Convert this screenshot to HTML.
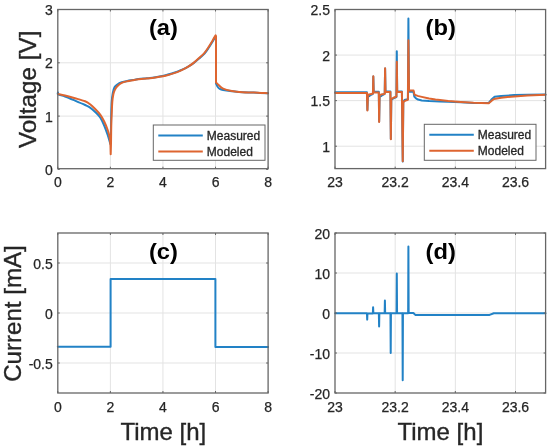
<!DOCTYPE html>
<html><head><meta charset="utf-8"><style>html,body{margin:0;padding:0;background:#fff;width:550px;height:448px;overflow:hidden}</style></head>
<body>
<svg width="550" height="448" viewBox="0 0 550 448" style="display:block;font-family:'Liberation Sans', sans-serif;will-change:transform">
<rect width="550" height="448" fill="#fff"/>
<line x1="110.38" y1="9.5" x2="110.38" y2="168.7" stroke="#e3e3e3" stroke-width="1"/>
<line x1="162.95" y1="9.5" x2="162.95" y2="168.7" stroke="#e3e3e3" stroke-width="1"/>
<line x1="215.53" y1="9.5" x2="215.53" y2="168.7" stroke="#e3e3e3" stroke-width="1"/>
<line x1="57.8" y1="116.10" x2="268.1" y2="116.10" stroke="#e3e3e3" stroke-width="1"/>
<line x1="57.8" y1="62.80" x2="268.1" y2="62.80" stroke="#e3e3e3" stroke-width="1"/>
<line x1="395.17" y1="9.5" x2="395.17" y2="168.6" stroke="#e3e3e3" stroke-width="1"/>
<line x1="455.34" y1="9.5" x2="455.34" y2="168.6" stroke="#e3e3e3" stroke-width="1"/>
<line x1="515.51" y1="9.5" x2="515.51" y2="168.6" stroke="#e3e3e3" stroke-width="1"/>
<line x1="335.0" y1="146.21" x2="545.6" y2="146.21" stroke="#e3e3e3" stroke-width="1"/>
<line x1="335.0" y1="100.64" x2="545.6" y2="100.64" stroke="#e3e3e3" stroke-width="1"/>
<line x1="335.0" y1="55.07" x2="545.6" y2="55.07" stroke="#e3e3e3" stroke-width="1"/>
<line x1="110.38" y1="233.0" x2="110.38" y2="393.0" stroke="#e3e3e3" stroke-width="1"/>
<line x1="162.95" y1="233.0" x2="162.95" y2="393.0" stroke="#e3e3e3" stroke-width="1"/>
<line x1="215.53" y1="233.0" x2="215.53" y2="393.0" stroke="#e3e3e3" stroke-width="1"/>
<line x1="57.8" y1="363.00" x2="268.1" y2="363.00" stroke="#e3e3e3" stroke-width="1"/>
<line x1="57.8" y1="313.00" x2="268.1" y2="313.00" stroke="#e3e3e3" stroke-width="1"/>
<line x1="57.8" y1="263.00" x2="268.1" y2="263.00" stroke="#e3e3e3" stroke-width="1"/>
<line x1="395.17" y1="233.0" x2="395.17" y2="393.0" stroke="#e3e3e3" stroke-width="1"/>
<line x1="455.34" y1="233.0" x2="455.34" y2="393.0" stroke="#e3e3e3" stroke-width="1"/>
<line x1="515.51" y1="233.0" x2="515.51" y2="393.0" stroke="#e3e3e3" stroke-width="1"/>
<line x1="335.0" y1="353.00" x2="545.6" y2="353.00" stroke="#e3e3e3" stroke-width="1"/>
<line x1="335.0" y1="313.00" x2="545.6" y2="313.00" stroke="#e3e3e3" stroke-width="1"/>
<line x1="335.0" y1="273.00" x2="545.6" y2="273.00" stroke="#e3e3e3" stroke-width="1"/>
<path d="M58.00,92.50 C58.05,92.83 57.13,93.83 58.30,94.50 C59.47,95.17 62.22,95.48 65.00,96.50 C67.78,97.52 71.65,99.18 75.00,100.60 C78.35,102.02 82.58,103.83 85.10,105.00 C87.62,106.17 88.42,106.43 90.10,107.60 C91.78,108.77 93.52,110.35 95.20,112.00 C96.88,113.65 98.70,115.25 100.20,117.50 C101.70,119.75 102.95,122.58 104.20,125.50 C105.45,128.42 106.82,132.42 107.70,135.00 C108.58,137.58 109.07,139.50 109.50,141.00 C109.93,142.50 110.17,143.50 110.30,144.00 C110.38,143.00 110.65,142.83 110.80,138.00 C110.95,133.17 111.05,121.03 111.20,115.00 C111.35,108.97 111.43,105.48 111.70,101.80 C111.97,98.12 112.33,95.32 112.80,92.90 C113.27,90.48 113.75,88.70 114.50,87.30 C115.25,85.90 116.10,85.33 117.30,84.50 C118.50,83.67 120.03,82.90 121.70,82.30 C123.37,81.70 125.43,81.28 127.30,80.90 C129.17,80.52 131.03,80.30 132.90,80.00 C134.77,79.70 136.65,79.33 138.50,79.08 C140.35,78.83 142.08,78.66 144.00,78.47 C145.92,78.28 148.08,78.17 150.00,77.96 C151.92,77.75 153.68,77.50 155.50,77.22 C157.32,76.94 159.08,76.64 160.90,76.28 C162.72,75.92 164.58,75.50 166.40,75.04 C168.22,74.58 169.98,74.06 171.80,73.50 C173.62,72.94 175.48,72.34 177.30,71.66 C179.12,70.98 180.88,70.27 182.70,69.42 C184.52,68.57 186.38,67.63 188.20,66.58 C190.02,65.53 191.78,64.43 193.60,63.10 C195.42,61.77 197.28,60.18 199.10,58.60 C200.92,57.02 202.87,55.45 204.50,53.60 C206.13,51.75 207.57,49.48 208.90,47.50 C210.23,45.52 211.53,43.33 212.50,41.70 C213.47,40.07 214.18,38.55 214.70,37.70 C215.22,36.85 215.45,36.78 215.60,36.60 C215.67,36.67 215.93,36.93 216.00,37.00 C216.00,44.75 216.00,75.75 216.00,83.50 C216.27,84.03 216.97,85.80 217.60,86.70 C218.23,87.60 218.88,88.35 219.80,88.90 C220.72,89.45 221.10,89.62 223.10,90.00 C225.10,90.38 228.53,90.82 231.80,91.20 C235.07,91.58 239.07,92.07 242.70,92.30 C246.33,92.53 249.38,92.43 253.60,92.60 C257.82,92.77 265.60,93.18 268.00,93.30" fill="none" stroke="#2282c6" stroke-width="2.0" stroke-linejoin="round" stroke-linecap="round"/>
<path d="M58.00,94.00 C59.17,94.25 62.17,94.80 65.00,95.50 C67.83,96.20 71.65,97.23 75.00,98.20 C78.35,99.17 82.58,100.28 85.10,101.30 C87.62,102.32 88.42,103.02 90.10,104.30 C91.78,105.58 93.52,107.28 95.20,109.00 C96.88,110.72 98.70,112.52 100.20,114.60 C101.70,116.68 102.95,118.93 104.20,121.50 C105.45,124.07 106.82,127.45 107.70,130.00 C108.58,132.55 109.05,134.33 109.50,136.80 C109.95,139.27 110.20,141.90 110.40,144.80 C110.60,147.70 110.65,152.63 110.70,154.20 C110.75,152.42 110.90,148.63 111.00,143.50 C111.10,138.37 111.18,128.32 111.30,123.40 C111.42,118.48 111.53,117.60 111.70,114.00 C111.87,110.40 112.02,105.13 112.30,101.80 C112.58,98.47 112.95,96.03 113.40,94.00 C113.85,91.97 114.35,90.90 115.00,89.60 C115.65,88.30 116.18,87.32 117.30,86.20 C118.42,85.08 120.03,83.73 121.70,82.90 C123.37,82.07 125.43,81.65 127.30,81.20 C129.17,80.75 131.03,80.52 132.90,80.20 C134.77,79.88 136.65,79.53 138.50,79.28 C140.35,79.03 142.08,78.84 144.00,78.67 C145.92,78.50 148.08,78.45 150.00,78.26 C151.92,78.07 153.68,77.80 155.50,77.52 C157.32,77.24 159.08,76.93 160.90,76.58 C162.72,76.23 164.58,75.89 166.40,75.44 C168.22,74.99 169.98,74.46 171.80,73.90 C173.62,73.34 175.48,72.76 177.30,72.06 C179.12,71.36 180.88,70.62 182.70,69.72 C184.52,68.82 186.38,67.82 188.20,66.68 C190.02,65.54 191.78,64.35 193.60,62.90 C195.42,61.45 197.28,59.68 199.10,58.00 C200.92,56.32 202.87,54.72 204.50,52.80 C206.13,50.88 207.57,48.52 208.90,46.50 C210.23,44.48 211.53,42.33 212.50,40.70 C213.47,39.07 214.18,37.58 214.70,36.70 C215.22,35.82 215.45,35.62 215.60,35.40 C215.67,35.50 215.93,35.90 216.00,36.00 C216.00,43.73 216.00,74.67 216.00,82.40 C216.45,82.85 217.52,84.07 218.70,85.10 C219.88,86.13 220.92,87.63 223.10,88.60 C225.28,89.57 228.53,90.30 231.80,90.90 C235.07,91.50 239.07,91.93 242.70,92.20 C246.33,92.47 249.38,92.32 253.60,92.50 C257.82,92.68 265.60,93.17 268.00,93.30" fill="none" stroke="#de6530" stroke-width="2.0" stroke-linejoin="round" stroke-linecap="round"/>
<polyline points="335.20,92.20 366.90,92.20 367.40,110.00 367.90,96.60 369.40,96.00 370.50,95.20 372.00,94.40 372.90,93.80 373.30,76.50 373.70,91.70 378.80,91.70 379.15,121.50 379.60,96.80 381.00,96.20 382.50,95.00 384.70,93.80 385.10,68.50 385.50,91.60 390.40,91.60 390.85,139.00 391.30,99.50 393.50,98.30 396.40,97.00 396.80,51.20 397.20,91.60 401.90,91.60 402.75,161.50 403.30,102.50 404.50,100.00 406.50,99.40 407.90,99.20 408.40,18.50 409.00,91.40 413.50,91.80 414.30,96.50 416.00,98.40 418.00,99.60 421.80,100.40 429.10,101.10 440.00,101.50 448.20,101.70 460.90,102.30 473.60,102.90 488.70,102.90 491.40,99.60 494.60,96.80 501.20,96.00 514.30,95.10 527.40,94.70 545.50,94.40" fill="none" stroke="#2282c6" stroke-width="2.0" stroke-linejoin="round" stroke-linecap="round"/>
<polyline points="335.20,92.90 366.90,92.90 367.40,110.40 367.90,95.00 369.00,94.40 372.40,93.80 372.95,93.20 373.30,76.20 373.65,92.40 378.80,92.40 379.15,122.00 379.60,95.20 381.00,94.60 384.30,94.00 384.75,93.50 385.10,68.20 385.50,92.00 390.40,92.00 390.85,139.30 391.30,98.80 393.50,97.80 396.00,96.80 396.45,96.40 396.80,61.70 397.20,92.00 401.90,92.00 402.75,161.30 403.30,101.80 405.50,100.60 407.40,100.00 407.90,99.70 408.40,40.30 409.00,90.30 413.60,90.60 414.50,94.60 417.60,95.90 421.80,96.90 429.10,98.50 435.50,99.50 440.00,100.00 448.20,101.00 460.90,101.90 473.60,102.70 481.50,102.90 488.70,103.30 491.40,100.90 494.00,99.00 501.20,97.70 514.30,96.40 527.40,95.40 545.50,94.80" fill="none" stroke="#de6530" stroke-width="2.0" stroke-linejoin="round" stroke-linecap="round"/>
<polyline points="57.80,346.70 110.60,346.70 110.60,279.10 215.40,279.10 215.40,346.90 268.10,346.90" fill="none" stroke="#2282c6" stroke-width="2.0" stroke-linejoin="round" stroke-linecap="round"/>
<polyline points="335.20,313.30 366.95,313.30 367.20,319.60 367.45,313.50 372.85,313.50 373.10,307.30 373.35,313.30 378.85,313.30 379.10,326.50 379.35,313.30 384.65,313.30 384.90,300.50 385.15,313.30 390.45,313.30 390.70,352.90 390.95,313.30 396.55,313.30 396.80,273.40 397.05,313.30 402.45,313.30 402.70,380.20 402.95,313.30 408.15,313.30 408.40,246.60 408.65,313.00 413.40,313.00 415.30,314.90 489.60,314.90 493.80,313.30 545.50,313.30" fill="none" stroke="#2282c6" stroke-width="2.0" stroke-linejoin="round" stroke-linecap="round"/>
<rect x="57.8" y="9.5" width="210.30" height="159.20" fill="none" stroke="#666666" stroke-width="1.3"/>
<line x1="57.80" y1="168.7" x2="57.80" y2="166.70" stroke="#666666" stroke-width="1"/>
<line x1="57.80" y1="9.5" x2="57.80" y2="11.50" stroke="#666666" stroke-width="1"/>
<line x1="110.38" y1="168.7" x2="110.38" y2="166.70" stroke="#666666" stroke-width="1"/>
<line x1="110.38" y1="9.5" x2="110.38" y2="11.50" stroke="#666666" stroke-width="1"/>
<line x1="162.95" y1="168.7" x2="162.95" y2="166.70" stroke="#666666" stroke-width="1"/>
<line x1="162.95" y1="9.5" x2="162.95" y2="11.50" stroke="#666666" stroke-width="1"/>
<line x1="215.53" y1="168.7" x2="215.53" y2="166.70" stroke="#666666" stroke-width="1"/>
<line x1="215.53" y1="9.5" x2="215.53" y2="11.50" stroke="#666666" stroke-width="1"/>
<line x1="268.10" y1="168.7" x2="268.10" y2="166.70" stroke="#666666" stroke-width="1"/>
<line x1="268.10" y1="9.5" x2="268.10" y2="11.50" stroke="#666666" stroke-width="1"/>
<line x1="57.8" y1="169.40" x2="59.80" y2="169.40" stroke="#666666" stroke-width="1"/>
<line x1="268.1" y1="169.40" x2="266.10" y2="169.40" stroke="#666666" stroke-width="1"/>
<line x1="57.8" y1="116.10" x2="59.80" y2="116.10" stroke="#666666" stroke-width="1"/>
<line x1="268.1" y1="116.10" x2="266.10" y2="116.10" stroke="#666666" stroke-width="1"/>
<line x1="57.8" y1="62.80" x2="59.80" y2="62.80" stroke="#666666" stroke-width="1"/>
<line x1="268.1" y1="62.80" x2="266.10" y2="62.80" stroke="#666666" stroke-width="1"/>
<line x1="57.8" y1="9.50" x2="59.80" y2="9.50" stroke="#666666" stroke-width="1"/>
<line x1="268.1" y1="9.50" x2="266.10" y2="9.50" stroke="#666666" stroke-width="1"/>
<text x="57.80" y="187.20" text-anchor="middle" font-size="14" fill="#262626" stroke="#262626" stroke-width="0.25">0</text>
<text x="110.38" y="187.20" text-anchor="middle" font-size="14" fill="#262626" stroke="#262626" stroke-width="0.25">2</text>
<text x="162.95" y="187.20" text-anchor="middle" font-size="14" fill="#262626" stroke="#262626" stroke-width="0.25">4</text>
<text x="215.53" y="187.20" text-anchor="middle" font-size="14" fill="#262626" stroke="#262626" stroke-width="0.25">6</text>
<text x="268.10" y="187.20" text-anchor="middle" font-size="14" fill="#262626" stroke="#262626" stroke-width="0.25">8</text>
<text x="52.80" y="175.00" text-anchor="end" font-size="14" fill="#262626" stroke="#262626" stroke-width="0.25">0</text>
<text x="52.80" y="121.70" text-anchor="end" font-size="14" fill="#262626" stroke="#262626" stroke-width="0.25">1</text>
<text x="52.80" y="68.40" text-anchor="end" font-size="14" fill="#262626" stroke="#262626" stroke-width="0.25">2</text>
<text x="52.80" y="15.10" text-anchor="end" font-size="14" fill="#262626" stroke="#262626" stroke-width="0.25">3</text>
<rect x="335.0" y="9.5" width="210.60" height="159.10" fill="none" stroke="#666666" stroke-width="1.3"/>
<line x1="335.00" y1="168.6" x2="335.00" y2="166.60" stroke="#666666" stroke-width="1"/>
<line x1="335.00" y1="9.5" x2="335.00" y2="11.50" stroke="#666666" stroke-width="1"/>
<line x1="395.17" y1="168.6" x2="395.17" y2="166.60" stroke="#666666" stroke-width="1"/>
<line x1="395.17" y1="9.5" x2="395.17" y2="11.50" stroke="#666666" stroke-width="1"/>
<line x1="455.34" y1="168.6" x2="455.34" y2="166.60" stroke="#666666" stroke-width="1"/>
<line x1="455.34" y1="9.5" x2="455.34" y2="11.50" stroke="#666666" stroke-width="1"/>
<line x1="515.51" y1="168.6" x2="515.51" y2="166.60" stroke="#666666" stroke-width="1"/>
<line x1="515.51" y1="9.5" x2="515.51" y2="11.50" stroke="#666666" stroke-width="1"/>
<line x1="335.0" y1="146.21" x2="337.00" y2="146.21" stroke="#666666" stroke-width="1"/>
<line x1="545.6" y1="146.21" x2="543.60" y2="146.21" stroke="#666666" stroke-width="1"/>
<line x1="335.0" y1="100.64" x2="337.00" y2="100.64" stroke="#666666" stroke-width="1"/>
<line x1="545.6" y1="100.64" x2="543.60" y2="100.64" stroke="#666666" stroke-width="1"/>
<line x1="335.0" y1="55.07" x2="337.00" y2="55.07" stroke="#666666" stroke-width="1"/>
<line x1="545.6" y1="55.07" x2="543.60" y2="55.07" stroke="#666666" stroke-width="1"/>
<line x1="335.0" y1="9.50" x2="337.00" y2="9.50" stroke="#666666" stroke-width="1"/>
<line x1="545.6" y1="9.50" x2="543.60" y2="9.50" stroke="#666666" stroke-width="1"/>
<text x="335.00" y="187.10" text-anchor="middle" font-size="14" fill="#262626" stroke="#262626" stroke-width="0.25">23</text>
<text x="395.17" y="187.10" text-anchor="middle" font-size="14" fill="#262626" stroke="#262626" stroke-width="0.25">23.2</text>
<text x="455.34" y="187.10" text-anchor="middle" font-size="14" fill="#262626" stroke="#262626" stroke-width="0.25">23.4</text>
<text x="515.51" y="187.10" text-anchor="middle" font-size="14" fill="#262626" stroke="#262626" stroke-width="0.25">23.6</text>
<text x="330.00" y="151.81" text-anchor="end" font-size="14" fill="#262626" stroke="#262626" stroke-width="0.25">1</text>
<text x="330.00" y="106.24" text-anchor="end" font-size="14" fill="#262626" stroke="#262626" stroke-width="0.25">1.5</text>
<text x="330.00" y="60.67" text-anchor="end" font-size="14" fill="#262626" stroke="#262626" stroke-width="0.25">2</text>
<text x="330.00" y="15.10" text-anchor="end" font-size="14" fill="#262626" stroke="#262626" stroke-width="0.25">2.5</text>
<rect x="57.8" y="233.0" width="210.30" height="160.00" fill="none" stroke="#666666" stroke-width="1.3"/>
<line x1="57.80" y1="393.0" x2="57.80" y2="391.00" stroke="#666666" stroke-width="1"/>
<line x1="57.80" y1="233.0" x2="57.80" y2="235.00" stroke="#666666" stroke-width="1"/>
<line x1="110.38" y1="393.0" x2="110.38" y2="391.00" stroke="#666666" stroke-width="1"/>
<line x1="110.38" y1="233.0" x2="110.38" y2="235.00" stroke="#666666" stroke-width="1"/>
<line x1="162.95" y1="393.0" x2="162.95" y2="391.00" stroke="#666666" stroke-width="1"/>
<line x1="162.95" y1="233.0" x2="162.95" y2="235.00" stroke="#666666" stroke-width="1"/>
<line x1="215.53" y1="393.0" x2="215.53" y2="391.00" stroke="#666666" stroke-width="1"/>
<line x1="215.53" y1="233.0" x2="215.53" y2="235.00" stroke="#666666" stroke-width="1"/>
<line x1="268.10" y1="393.0" x2="268.10" y2="391.00" stroke="#666666" stroke-width="1"/>
<line x1="268.10" y1="233.0" x2="268.10" y2="235.00" stroke="#666666" stroke-width="1"/>
<line x1="57.8" y1="363.00" x2="59.80" y2="363.00" stroke="#666666" stroke-width="1"/>
<line x1="268.1" y1="363.00" x2="266.10" y2="363.00" stroke="#666666" stroke-width="1"/>
<line x1="57.8" y1="313.00" x2="59.80" y2="313.00" stroke="#666666" stroke-width="1"/>
<line x1="268.1" y1="313.00" x2="266.10" y2="313.00" stroke="#666666" stroke-width="1"/>
<line x1="57.8" y1="263.00" x2="59.80" y2="263.00" stroke="#666666" stroke-width="1"/>
<line x1="268.1" y1="263.00" x2="266.10" y2="263.00" stroke="#666666" stroke-width="1"/>
<text x="57.80" y="411.50" text-anchor="middle" font-size="14" fill="#262626" stroke="#262626" stroke-width="0.25">0</text>
<text x="110.38" y="411.50" text-anchor="middle" font-size="14" fill="#262626" stroke="#262626" stroke-width="0.25">2</text>
<text x="162.95" y="411.50" text-anchor="middle" font-size="14" fill="#262626" stroke="#262626" stroke-width="0.25">4</text>
<text x="215.53" y="411.50" text-anchor="middle" font-size="14" fill="#262626" stroke="#262626" stroke-width="0.25">6</text>
<text x="268.10" y="411.50" text-anchor="middle" font-size="14" fill="#262626" stroke="#262626" stroke-width="0.25">8</text>
<text x="52.80" y="368.60" text-anchor="end" font-size="14" fill="#262626" stroke="#262626" stroke-width="0.25">-0.5</text>
<text x="52.80" y="318.60" text-anchor="end" font-size="14" fill="#262626" stroke="#262626" stroke-width="0.25">0</text>
<text x="52.80" y="268.60" text-anchor="end" font-size="14" fill="#262626" stroke="#262626" stroke-width="0.25">0.5</text>
<rect x="335.0" y="233.0" width="210.60" height="160.00" fill="none" stroke="#666666" stroke-width="1.3"/>
<line x1="335.00" y1="393.0" x2="335.00" y2="391.00" stroke="#666666" stroke-width="1"/>
<line x1="335.00" y1="233.0" x2="335.00" y2="235.00" stroke="#666666" stroke-width="1"/>
<line x1="395.17" y1="393.0" x2="395.17" y2="391.00" stroke="#666666" stroke-width="1"/>
<line x1="395.17" y1="233.0" x2="395.17" y2="235.00" stroke="#666666" stroke-width="1"/>
<line x1="455.34" y1="393.0" x2="455.34" y2="391.00" stroke="#666666" stroke-width="1"/>
<line x1="455.34" y1="233.0" x2="455.34" y2="235.00" stroke="#666666" stroke-width="1"/>
<line x1="515.51" y1="393.0" x2="515.51" y2="391.00" stroke="#666666" stroke-width="1"/>
<line x1="515.51" y1="233.0" x2="515.51" y2="235.00" stroke="#666666" stroke-width="1"/>
<line x1="335.0" y1="393.00" x2="337.00" y2="393.00" stroke="#666666" stroke-width="1"/>
<line x1="545.6" y1="393.00" x2="543.60" y2="393.00" stroke="#666666" stroke-width="1"/>
<line x1="335.0" y1="353.00" x2="337.00" y2="353.00" stroke="#666666" stroke-width="1"/>
<line x1="545.6" y1="353.00" x2="543.60" y2="353.00" stroke="#666666" stroke-width="1"/>
<line x1="335.0" y1="313.00" x2="337.00" y2="313.00" stroke="#666666" stroke-width="1"/>
<line x1="545.6" y1="313.00" x2="543.60" y2="313.00" stroke="#666666" stroke-width="1"/>
<line x1="335.0" y1="273.00" x2="337.00" y2="273.00" stroke="#666666" stroke-width="1"/>
<line x1="545.6" y1="273.00" x2="543.60" y2="273.00" stroke="#666666" stroke-width="1"/>
<line x1="335.0" y1="233.00" x2="337.00" y2="233.00" stroke="#666666" stroke-width="1"/>
<line x1="545.6" y1="233.00" x2="543.60" y2="233.00" stroke="#666666" stroke-width="1"/>
<text x="335.00" y="411.50" text-anchor="middle" font-size="14" fill="#262626" stroke="#262626" stroke-width="0.25">23</text>
<text x="395.17" y="411.50" text-anchor="middle" font-size="14" fill="#262626" stroke="#262626" stroke-width="0.25">23.2</text>
<text x="455.34" y="411.50" text-anchor="middle" font-size="14" fill="#262626" stroke="#262626" stroke-width="0.25">23.4</text>
<text x="515.51" y="411.50" text-anchor="middle" font-size="14" fill="#262626" stroke="#262626" stroke-width="0.25">23.6</text>
<text x="330.00" y="398.60" text-anchor="end" font-size="14" fill="#262626" stroke="#262626" stroke-width="0.25">-20</text>
<text x="330.00" y="358.60" text-anchor="end" font-size="14" fill="#262626" stroke="#262626" stroke-width="0.25">-10</text>
<text x="330.00" y="318.60" text-anchor="end" font-size="14" fill="#262626" stroke="#262626" stroke-width="0.25">0</text>
<text x="330.00" y="278.60" text-anchor="end" font-size="14" fill="#262626" stroke="#262626" stroke-width="0.25">10</text>
<text x="330.00" y="238.60" text-anchor="end" font-size="14" fill="#262626" stroke="#262626" stroke-width="0.25">20</text>
<text transform="translate(163.35,34.80) scale(1.03,0.95)" text-anchor="middle" font-size="23" font-weight="bold" fill="#000">(a)</text>
<text transform="translate(440.70,34.80) scale(1.03,0.95)" text-anchor="middle" font-size="23" font-weight="bold" fill="#000">(b)</text>
<text transform="translate(163.35,259.00) scale(1.03,0.95)" text-anchor="middle" font-size="23" font-weight="bold" fill="#000">(c)</text>
<text transform="translate(440.70,259.00) scale(1.03,0.95)" text-anchor="middle" font-size="23" font-weight="bold" fill="#000">(d)</text>
<rect x="153.3" y="125.0" width="111.70" height="35.30" fill="#fff" stroke="#666666" stroke-width="1"/>
<line x1="158.3" y1="135.5" x2="202.8" y2="135.5" stroke="#2282c6" stroke-width="2"/>
<line x1="158.3" y1="151.5" x2="202.8" y2="151.5" stroke="#de6530" stroke-width="2"/>
<text x="206.8" y="140.0" font-size="12" fill="#262626" stroke="#262626" stroke-width="0.3">Measured</text>
<text x="206.8" y="156.0" font-size="12" fill="#262626" stroke="#262626" stroke-width="0.3">Modeled</text>
<rect x="424.3" y="124.3" width="111.70" height="36.00" fill="#fff" stroke="#666666" stroke-width="1"/>
<line x1="429.3" y1="134.8" x2="473.8" y2="134.8" stroke="#2282c6" stroke-width="2"/>
<line x1="429.3" y1="150.8" x2="473.8" y2="150.8" stroke="#de6530" stroke-width="2"/>
<text x="477.8" y="139.3" font-size="12" fill="#262626" stroke="#262626" stroke-width="0.3">Measured</text>
<text x="477.8" y="155.3" font-size="12" fill="#262626" stroke="#262626" stroke-width="0.3">Modeled</text>
<text transform="translate(36.2,89.3) rotate(-90)" text-anchor="middle" font-size="24.3" fill="#262626" stroke="#262626" stroke-width="0.35">Voltage [V]</text>
<text transform="translate(20.7,313.5) rotate(-90)" text-anchor="middle" font-size="24.1" fill="#262626" stroke="#262626" stroke-width="0.35">Current [mA]</text>
<text x="163.3" y="440" text-anchor="middle" font-size="24" fill="#262626" stroke="#262626" stroke-width="0.35">Time [h]</text>
<text x="440.4" y="440" text-anchor="middle" font-size="24" fill="#262626" stroke="#262626" stroke-width="0.35">Time [h]</text>
</svg>
</body></html>
